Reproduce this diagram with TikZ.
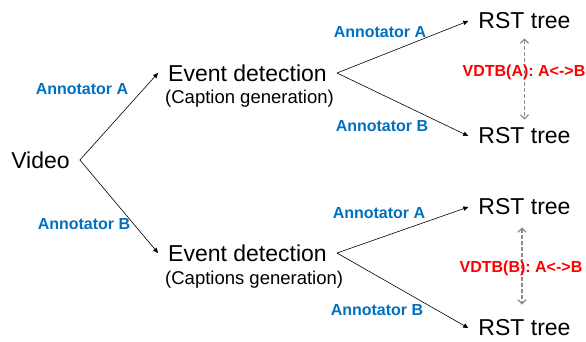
\documentclass[tikz,border=0pt]{standalone}
\usepackage{fontspec}
\setmainfont{Liberation Sans}
\usetikzlibrary{arrows.meta}
\definecolor{annblue}{HTML}{0070C0}
\definecolor{vdtbred}{HTML}{FF0000}

\begin{document}
\begin{tikzpicture}[x=1pt,y=-1pt,
  txt/.style={inner xsep=10pt,inner ysep=0pt,font=\fontsize{23}{27}\selectfont},
  sub/.style={inner sep=0pt,anchor=base west,font=\fontsize{18.5}{22}\selectfont},
  ann/.style={inner sep=0pt,text=annblue,font=\bfseries\fontsize{16}{19}\selectfont},
  vdtb/.style={inner sep=0pt,text=vdtbred,font=\bfseries\fontsize{16}{19}\selectfont},
  link/.style={-{Triangle[length=5pt,width=4.5pt]},line width=0.6pt},
  agree/.style={{Straight Barb[length=4pt,width=8pt]}-{Straight Barb[length=4pt,width=8pt]},
    gray!90,dash pattern=on 4pt off 2pt,line width=1.3pt,shorten <=9pt,shorten >=8pt}]
\useasboundingbox (0,0) rectangle (586,341);

% source and the two captioning passes
\node[txt] (video) at (40.5,160) {Video};
\node[txt] (ev1) at (247.5,73) {Event detection};
\node[sub] (cap1) at (165,103.5) {(Caption generation)};
\node[txt] (ev2) at (247.5,253) {Event detection};
\node[sub] (cap2) at (165,284.5) {(Captions generation)};

% one RST tree per annotator
\node[txt] (rst1) at (524.5,21) {RST tree};
\node[txt] (rst2) at (524.5,136) {RST tree};
\node[txt] (rst3) at (524.5,207) {RST tree};
\node[txt] (rst4) at (524.5,328) {RST tree};

\draw[link] (video.east) -- (ev1.west);
\draw[link] (video.east) -- (ev2.west);
\foreach \e/\r in {ev1/rst1,ev1/rst2,ev2/rst3,ev2/rst4}
  \draw[link] (\e.east) -- (\r.west);

\node[ann] (annA) at (82,89) {Annotator A};
\node[ann] (annB) at (84,224) {Annotator B};
\node[ann] (annA1) at (380,32) {Annotator A};
\node[ann] (annB1) at (382,126) {Annotator B};
\node[ann] (annA2) at (379,213) {Annotator A};
\node[ann] (annB2) at (377,310) {Annotator B};

% agreement between the two trees
\draw[agree] (rst1.south) -- (rst2.north);
\draw[agree,shorten <=12pt,shorten >=15pt] ([xshift=-2.5pt]rst3.south) -- ([xshift=-2.5pt]rst4.north);
\node[vdtb] (vdtbA) at (524,72) {VDTB(A): A<->B};
\node[vdtb] (vdtbB) at (521,268) {VDTB(B): A<->B};
\end{tikzpicture}
\end{document}
